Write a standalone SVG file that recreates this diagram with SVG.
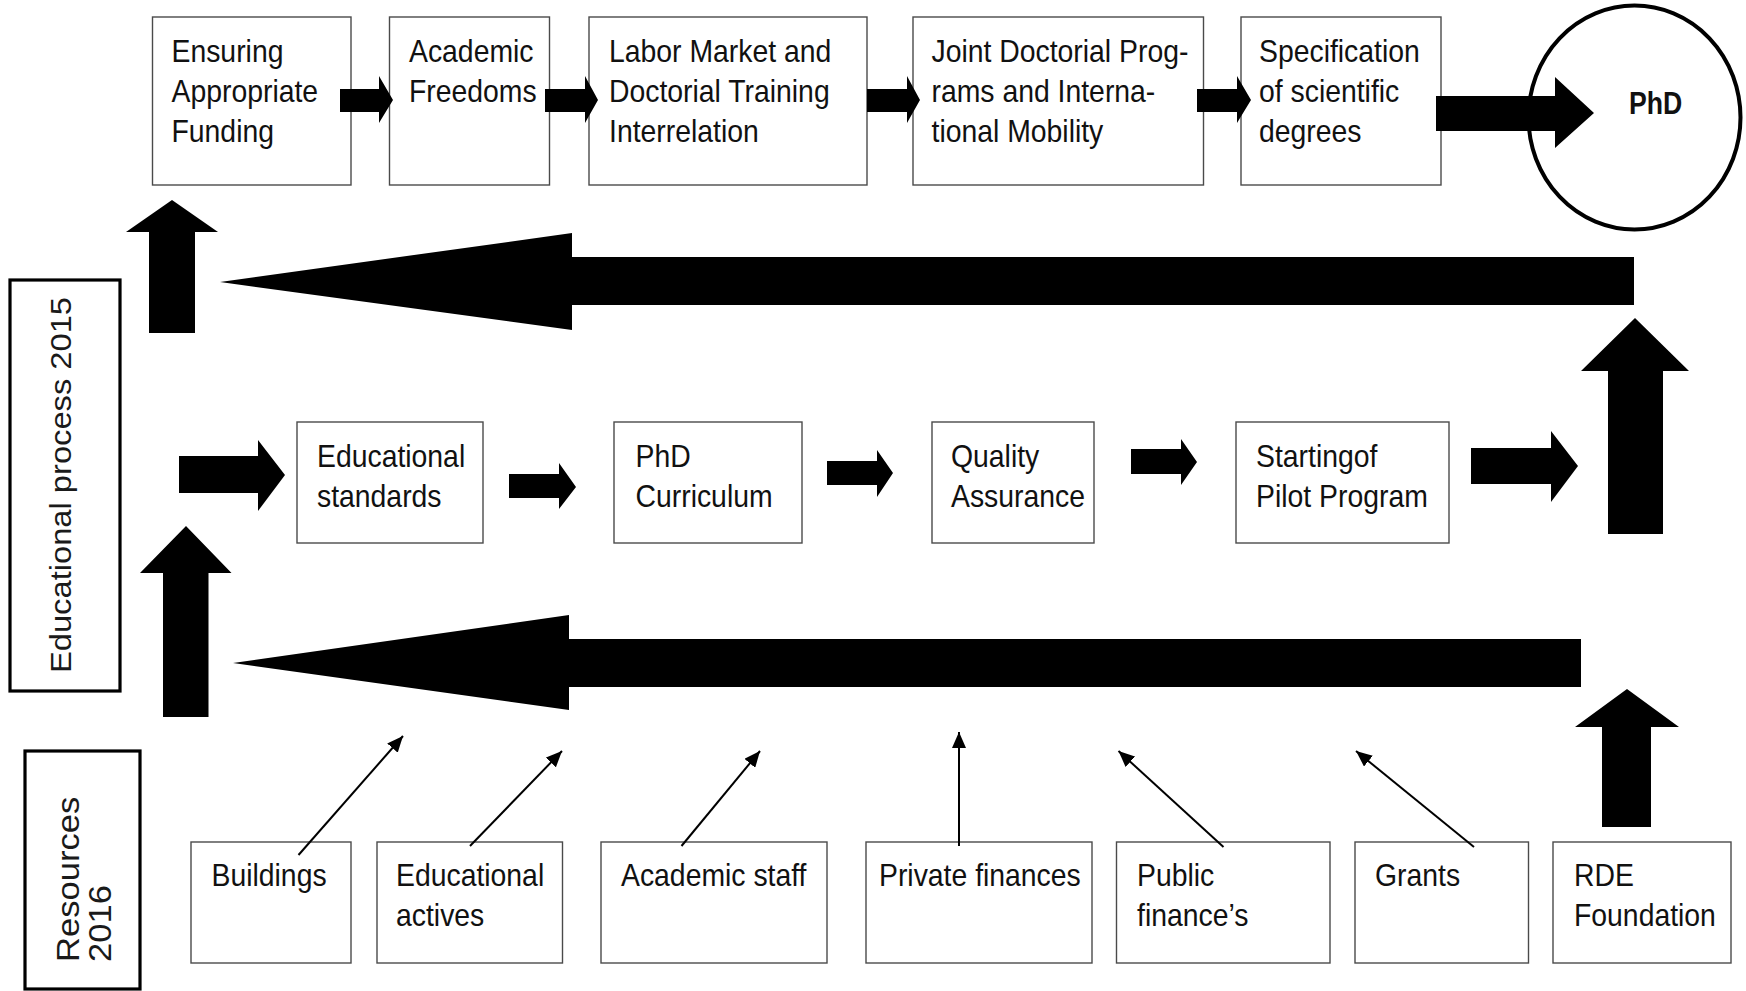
<svg xmlns="http://www.w3.org/2000/svg" width="1746" height="991" viewBox="0 0 1746 991">
<defs>
<style>
.box{fill:#fff;stroke:#4a4a4a;stroke-width:1.4}
.lab{fill:#fff;stroke:#000;stroke-width:3.2}
.t{font-family:"Liberation Sans",Arial,sans-serif;font-size:31px;fill:#111}
.side{font-family:"Liberation Sans",Arial,sans-serif;fill:#1a1a1a}
.blk{fill:#000}
.thin{stroke:#000;stroke-width:2;fill:none;marker-end:url(#ah)}
</style>
<marker id="ah" viewBox="0 0 16 14" refX="16" refY="7" markerWidth="16" markerHeight="14" markerUnits="userSpaceOnUse" orient="auto">
<path d="M0,0 L16,7 L0,14 z" fill="#000"/>
</marker>
</defs>
<rect width="1746" height="991" fill="#fff"/>

<g id="label-educational-process">
<rect class="lab" x="10" y="280" width="110" height="411"/>
<text class="side" font-size="30" text-anchor="middle" transform="translate(71,485) rotate(-90) scale(1.09,1)">Educational process 2015</text>
</g>
<g id="label-resources">
<rect class="lab" x="25" y="751" width="115" height="238"/>
<text class="side" font-size="32" transform="translate(78.5,962) rotate(-90) scale(1.08,1)"><tspan x="0" y="0">Resources</tspan><tspan x="0" y="32.5">2016</tspan></text>
</g>

<g id="node-funding">
<rect class="box" x="152.5" y="17" width="198.5" height="168"/>
<text class="t" transform="translate(171.5,62) scale(0.915,1)"><tspan x="0" y="0">Ensuring</tspan><tspan x="0" y="40">Appropriate</tspan><tspan x="0" y="80">Funding</tspan></text>
</g>
<g id="node-freedoms">
<rect class="box" x="389.5" y="17" width="160" height="168"/>
<text class="t" transform="translate(409,62) scale(0.915,1)"><tspan x="0" y="0">Academic</tspan><tspan x="0" y="40">Freedoms</tspan></text>
</g>
<g id="node-labor">
<rect class="box" x="589" y="17" width="278" height="168"/>
<text class="t" transform="translate(609,62) scale(0.915,1)"><tspan x="0" y="0">Labor Market and</tspan><tspan x="0" y="40">Doctorial Training</tspan><tspan x="0" y="80">Interrelation</tspan></text>
</g>
<g id="node-joint">
<rect class="box" x="913" y="17" width="290.5" height="168"/>
<text class="t" transform="translate(931.5,62) scale(0.915,1)"><tspan x="0" y="0">Joint Doctorial Prog-</tspan><tspan x="0" y="40">rams and Interna-</tspan><tspan x="0" y="80">tional Mobility</tspan></text>
</g>
<g id="node-specification">
<rect class="box" x="1241" y="17" width="200" height="168"/>
<text class="t" transform="translate(1259,62) scale(0.915,1)"><tspan x="0" y="0">Specification</tspan><tspan x="0" y="40">of scientific</tspan><tspan x="0" y="80">degrees</tspan></text>
</g>
<g id="node-phd">
<ellipse cx="1634.5" cy="117.5" rx="106" ry="112" fill="#fff" stroke="#000" stroke-width="4"/>
<text class="t" font-weight="bold" font-size="38" transform="translate(1629,114) scale(0.86,1)">PhD</text>
</g>

<g id="node-standards">
<rect class="box" x="297" y="422" width="186" height="121"/>
<text class="t" transform="translate(317,467) scale(0.915,1)"><tspan x="0" y="0">Educational</tspan><tspan x="0" y="40">standards</tspan></text>
</g>
<g id="node-curriculum">
<rect class="box" x="614" y="422" width="188" height="121"/>
<text class="t" transform="translate(635.5,467) scale(0.915,1)"><tspan x="0" y="0">PhD</tspan><tspan x="0" y="40">Curriculum</tspan></text>
</g>
<g id="node-quality">
<rect class="box" x="932" y="422" width="162" height="121"/>
<text class="t" transform="translate(951,467) scale(0.915,1)"><tspan x="0" y="0">Quality</tspan><tspan x="0" y="40">Assurance</tspan></text>
</g>
<g id="node-pilot">
<rect class="box" x="1236" y="422" width="213" height="121"/>
<text class="t" transform="translate(1256,467) scale(0.915,1)"><tspan x="0" y="0">Startingof</tspan><tspan x="0" y="40">Pilot Program</tspan></text>
</g>

<g id="node-buildings">
<rect class="box" x="191" y="842" width="160" height="121"/>
<text class="t" transform="translate(211.5,886) scale(0.915,1)">Buildings</text>
</g>
<g id="node-actives">
<rect class="box" x="377" y="842" width="185.5" height="121"/>
<text class="t" transform="translate(396,886) scale(0.915,1)"><tspan x="0" y="0">Educational</tspan><tspan x="0" y="40">actives</tspan></text>
</g>
<g id="node-staff">
<rect class="box" x="601" y="842" width="226" height="121"/>
<text class="t" transform="translate(621,886) scale(0.915,1)">Academic staff</text>
</g>
<g id="node-private">
<rect class="box" x="866" y="842" width="226" height="121"/>
<text class="t" transform="translate(879,886) scale(0.915,1)">Private finances</text>
</g>
<g id="node-public">
<rect class="box" x="1116.5" y="842" width="213.5" height="121"/>
<text class="t" transform="translate(1137,886) scale(0.915,1)"><tspan x="0" y="0">Public</tspan><tspan x="0" y="40">finance’s</tspan></text>
</g>
<g id="node-grants">
<rect class="box" x="1355" y="842" width="173.5" height="121"/>
<text class="t" transform="translate(1375,886) scale(0.915,1)">Grants</text>
</g>
<g id="node-rde">
<rect class="box" x="1553" y="842" width="178" height="121"/>
<text class="t" transform="translate(1574,886) scale(0.915,1)"><tspan x="0" y="0">RDE</tspan><tspan x="0" y="40">Foundation</tspan></text>
</g>

<g id="connectors">
<polygon class="blk" points="340,89 379,89 379,76 393,100 379,123 379,112 340,112"/>
<polygon class="blk" points="545,89 585,89 585,76 598,100 585,123 585,112 545,112"/>
<polygon class="blk" points="867,89 907,89 907,76 920,100 907,123 907,112 867,112"/>
<polygon class="blk" points="1197,89 1237,89 1237,76 1251,100 1237,123 1237,112 1197,112"/>
<polygon class="blk" points="1436,96 1555,96 1555,77 1594,113 1555,148 1555,131 1436,131"/>
<polygon class="blk" points="149,333 149,232 126,232 172,200 218,232 195,232 195,333"/>
<polygon class="blk" points="1634,257 572,257 572,233 220,282 572,330 572,305 1634,305"/>
<polygon class="blk" points="179,456 258,456 258,440 285,475 258,511 258,493 179,493"/>
<polygon class="blk" points="509,474 559,474 559,463 576,487 559,509 559,498 509,498"/>
<polygon class="blk" points="827,461 877,461 877,450 893,473 877,497 877,485 827,485"/>
<polygon class="blk" points="1131,449 1181,449 1181,439 1197,462 1181,485 1181,474 1131,474"/>
<polygon class="blk" points="1471,448 1551,448 1551,431 1578,466 1551,502 1551,484 1471,484"/>
<polygon class="blk" points="1608,534 1608,371 1581,371 1635,318 1689,371 1663,371 1663,534"/>
<polygon class="blk" points="163,717 163,573 140,573 186,526 231.5,573 208.5,573 208.5,717"/>
<polygon class="blk" points="1581,639 569,639 569,615 233,663 569,710 569,687 1581,687"/>
<polygon class="blk" points="1602,827 1602,727 1575,727 1627,689 1679,727 1651,727 1651,827"/>
<line class="thin" x1="298.5" y1="855" x2="403" y2="736"/>
<line class="thin" x1="470" y1="846" x2="562" y2="751"/>
<line class="thin" x1="681.5" y1="846" x2="760" y2="751"/>
<line class="thin" x1="959" y1="846" x2="959" y2="732"/>
<line class="thin" x1="1223.5" y1="847" x2="1118.5" y2="751"/>
<line class="thin" x1="1474" y1="847" x2="1356" y2="751"/>
</g>
</svg>
